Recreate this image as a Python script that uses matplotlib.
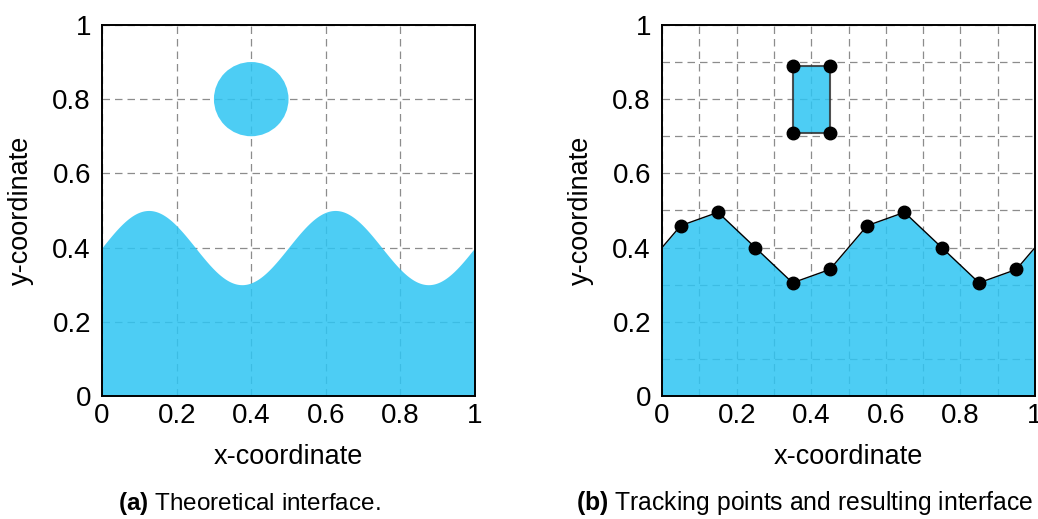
import numpy as np
import matplotlib
matplotlib.use("Agg")
import matplotlib.pyplot as plt
from matplotlib.patches import Circle, Polygon

plt.rcParams["font.family"] = ["Liberation Sans", "DejaVu Sans"]
plt.rcParams["mathtext.fontset"] = "custom"
plt.rcParams["mathtext.rm"] = "Liberation Sans"
plt.rcParams["mathtext.bf"] = "Liberation Sans:bold"

# Interface teorica: y = base + amplitud * sin(2*pi*periodos*x)
BASE = 0.4
AMPLITUD = 0.1
PERIODOS = 2
# Burbuja circular
CIRC_CENTRO = (0.4, 0.8)
CIRC_RADIO = 0.1

track_x = [0.0, 0.05, 0.15, 0.25, 0.35, 0.45, 0.55, 0.65, 0.75, 0.85, 0.95, 1.0]
track_y = [0.4, 0.459, 0.495, 0.4, 0.305, 0.341, 0.459, 0.495, 0.4, 0.305, 0.341, 0.4]
dots_x = track_x[1:-1]
dots_y = track_y[1:-1]

# Rectangulo que aproxima la burbuja
rect_x = [0.35, 0.45, 0.45, 0.35]
rect_y = [0.71, 0.71, 0.89, 0.89]

ticks = [0, 0.2, 0.4, 0.6, 0.8, 1]
tick_labels = ["0", "0.2", "0.4", "0.6", "0.8", "1"]

FILL = "#2ec5f3"
ALPHA = 0.85
GRID = dict(color="#8c8c8c", linestyle=(0, (6, 4)), linewidth=0.9)


def style_axes(ax, minor=False):
    ax.set_xlim(0, 1)
    ax.set_ylim(0, 1)
    ax.set_xticks(ticks)
    ax.set_yticks(ticks)
    ax.set_xticklabels(tick_labels)
    ax.set_yticklabels(tick_labels)
    if minor:
        ax.set_xticks(np.arange(0.1, 1.0, 0.2), minor=True)
        ax.set_yticks(np.arange(0.1, 1.0, 0.2), minor=True)
        ax.grid(True, which="both", **GRID)
    else:
        ax.grid(True, **GRID)
    ax.set_axisbelow(True)
    ax.tick_params(which="both", length=0, labelsize=20)
    ax.tick_params(axis="x", pad=5)
    ax.tick_params(axis="y", pad=8)
    for s in ax.spines.values():
        s.set_linewidth(1.4)
        s.set_zorder(5)
    ax.set_xlabel("x-coordinate", fontsize=19.5, labelpad=11)
    ax.set_ylabel("y-coordinate", fontsize=19.5, labelpad=13)


fig = plt.figure(figsize=(10.38, 5.19), dpi=100)
ax1 = fig.add_axes([0.0983, 0.237, 0.3593, 0.715])
ax2 = fig.add_axes([0.6378, 0.237, 0.3593, 0.715])

# (a) interfaz teorica
x = np.linspace(0, 1, 400)
y = BASE + AMPLITUD * np.sin(2 * np.pi * PERIODOS * x)
ax1.fill_between(x, 0, y, color=FILL, alpha=ALPHA, linewidth=0, zorder=2)
ax1.add_patch(Circle(CIRC_CENTRO, CIRC_RADIO, color=FILL, alpha=ALPHA, linewidth=0, zorder=2))
style_axes(ax1)

# (b) puntos de seguimiento
ax2.fill_between(track_x, 0, track_y, color=FILL, alpha=ALPHA, linewidth=0, zorder=2)
ax2.plot(track_x, track_y, color="black", linewidth=1.0, zorder=3)
ax2.plot(dots_x, dots_y, "o", color="black", markersize=9, zorder=4)
ax2.add_patch(Polygon(list(zip(rect_x, rect_y)), closed=True, facecolor=FILL, alpha=ALPHA,
                      edgecolor="#333333", linewidth=1.5, zorder=3))
ax2.plot(rect_x, rect_y, "o", color="black", markersize=9, zorder=4)
style_axes(ax2, minor=True)

fig.text(0.24, 0.018, r"$\bf{(a)}$ Theoretical interface.", ha="center", fontsize=17.5)
fig.text(0.775, 0.018, r"$\bf{(b)}$ Tracking points and resulting interface", ha="center", fontsize=17.8)

plt.savefig("out.png", dpi=100)
